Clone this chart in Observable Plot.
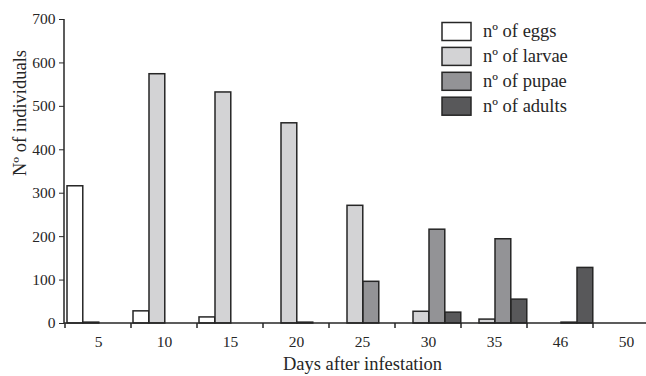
<!DOCTYPE html>
<html><head><meta charset="utf-8">
<script src="https://cdn.jsdelivr.net/npm/d3@7"></script>
<script src="https://cdn.jsdelivr.net/npm/@observablehq/plot@0.6"></script>
<style>body{margin:0;background:#fff;overflow:hidden}</style>
</head><body><div id="chart"></div>
<script>
const days = ["5","10","15","20","25","30","35","46","50"];
const stages = ["nº of eggs","nº of larvae","nº of pupae","nº of adults"];
const eggs   = [316, 28, 14, 0, 0, 0, 0, 0, 0];
const larvae = [2, 574, 532, 461, 271, 27, 9, 0, 0];
const pupae  = [0, 0, 0, 2, 96, 216, 194, 2, 0];
const adults = [0, 0, 0, 0, 0, 25, 55, 128, 0];
const yTicks = [0, 100, 200, 300, 400, 500, 600, 700];
const stageColors = ["#ffffff", "#d3d3d5", "#939396", "#58585a"];

const series = [eggs, larvae, pupae, adults];
const rows = [];
series.forEach((vals, j) => vals.forEach((v, i) => rows.push({day: days[i], stage: stages[j], slot: j, value: v})));

const W = 646, H = 376, ML = 64, MT = 19, MB = 53;
const X0 = 64, X1 = 660;
const BAND = (X1 - X0) / days.length;
const PAD = 2, BW = 16;
const INK = "#262626";
const FONT = "'Liberation Serif', 'Times New Roman', serif";

function axisLines(index, {x, y}, values, dims) {
  const g = d3.create("svg:g").attr("stroke", INK).attr("stroke-width", 1.5).attr("fill", "none");
  g.append("line").attr("x1", ML).attr("x2", ML).attr("y1", y(700)).attr("y2", y(0));
  g.append("line").attr("x1", ML).attr("x2", W).attr("y1", y(0)).attr("y2", y(0));
  for (const d of days) {
    const px = x(d);
    g.append("line").attr("x1", px).attr("x2", px).attr("y1", y(0)).attr("y2", y(0) + 5);
  }
  return g.node();
}

function legend() {
  const g = d3.create("svg:g");
  stages.forEach((s, i) => {
    const top = 22.5 + i * 24.9;
    g.append("rect").attr("x", 442).attr("y", top).attr("width", 29).attr("height", 18)
      .attr("fill", stageColors[i]).attr("stroke", INK).attr("stroke-width", 1.5);
    g.append("text").attr("x", 483).attr("y", top + 14.3).attr("fill", INK)
      .attr("text-anchor", "start").attr("font-family", FONT)
      .attr("font-size", 18.5).text(s);
  });
  return g.node();
}

const marks = stages.map((s, j) => Plot.barY(rows.filter(r => r.slot === j && r.value > 0), {
  x: "day", y: "value", fill: "stage",
  stroke: INK, strokeWidth: 1.5,
  insetLeft: PAD + j * BW, insetRight: BAND - PAD - (j + 1) * BW
}));

const chart = Plot.plot({
  width: W, height: H,
  marginLeft: ML, marginRight: 0, marginTop: MT, marginBottom: MB,
  style: {fontFamily: FONT, fontSize: "15.5px", color: INK, background: "#fff"},
  x: {type: "band", domain: days, range: [X0, X1], padding: 0},
  y: {domain: [0, 700]},
  color: {domain: stages, range: stageColors},
  marks: [
    ...marks,
    Plot.axisX({tickSize: 0, tickPadding: 12, fontSize: 15.5, label: null}),
    Plot.text(["Days after infestation"], {frameAnchor: "bottom", dy: 46.5, dx: 7, fontSize: 18.5, fill: INK, text: d => d}),
    Plot.axisY({ticks: yTicks, tickSize: 5, tickPadding: 4, fontSize: 15.5, label: null}),
    Plot.text(["Nº of individuals"], {frameAnchor: "left", dx: -44, dy: 4.5, rotate: -90, fontSize: 18.5, fill: INK, text: d => d}),
    axisLines,
    legend
  ]
});
document.getElementById("chart").append(chart);
</script>
</body></html>
